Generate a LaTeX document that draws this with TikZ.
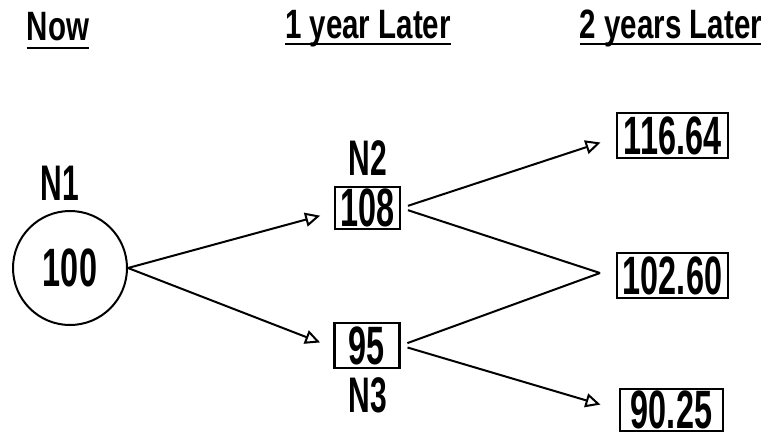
\documentclass[tikz,border=0pt]{standalone}
\usepackage{fontspec}
\setmainfont{Liberation Sans}[FakeStretch=0.72]
\newfontfamily\numfont{Liberation Sans}[FakeStretch=0.6]
\usetikzlibrary{arrows.meta}
\begin{document}
\begin{tikzpicture}[x=1pt,y=-1pt,
  num/.style={font=\numfont\fontsize{54}{54}\selectfont\bfseries, inner sep=0pt},
  box/.style={num, draw, line width=2.6pt},
  lab/.style={font=\numfont\fontsize{50}{50}\selectfont\bfseries, inner sep=0pt},
  hdr/.style={font=\fontsize{41}{41}\selectfont\bfseries, inner sep=0pt, anchor=base},
  uline/.style={line width=2pt},
  conn/.style={line width=2pt, -{Triangle[open, length=15pt, width=14pt, line width=2pt]}},
  plain/.style={line width=2pt}]
\useasboundingbox (0,0) rectangle (761,437);
% headers
\node[hdr] (h0) at (58,40) {Now};
\node[hdr] (h1) at (368,38) {1 year Later};
\node[hdr] (h2) at (671,38) {2 years Later};
\draw[uline] ([yshift=-8pt]h0.base west) -- ([yshift=-8pt]h0.base east);
\draw[uline] ([yshift=-6pt]h1.base west) -- ([yshift=-6pt]h1.base east);
\draw[uline] ([yshift=-6pt]h2.base west) -- ([yshift=-6pt]h2.base east);
% nodes
\node[num, draw, circle, line width=2pt, minimum size=114pt] (n1) at (70,268) {100};
\node[lab] (l1) at (60,183) {N1};
\node[box, minimum width=65pt, minimum height=42pt] (n2) at (367.5,208) {108};
\node[lab] (l2) at (368,158) {N2};
\node[box, minimum width=65pt, minimum height=45pt] (n3) at (367,345.5) {95};
\node[lab] (l3) at (368,395) {N3};
\node[box, minimum width=111pt, minimum height=45pt] (r1) at (672.5,135.5) {116.64};
\node[box, minimum width=111pt, minimum height=45pt] (r2) at (672.5,275.5) {102.60};
\node[box, minimum width=103pt, minimum height=42pt] (r3) at (671.5,410) {90.25};
\coordinate (m) at (600,273);
% connectors
\draw[conn, shorten >=14pt] (n1.east) -- ([yshift=-4pt]n2.west);
\draw[conn, shorten >=14pt] (n1.east) -- ([yshift=-2pt]n3.west);
\draw[conn, shorten <=7pt, shorten >=16pt] (n2.east) -- ([yshift=-2pt]r1.west);
\draw[plain, shorten <=7pt] (n2.east) -- (m);
\draw[plain, shorten <=7pt] (n3.east) -- (m);
\draw[conn, shorten <=7pt, shorten >=19pt] (n3.east) -- (r3.west);
\end{tikzpicture}
\end{document}
